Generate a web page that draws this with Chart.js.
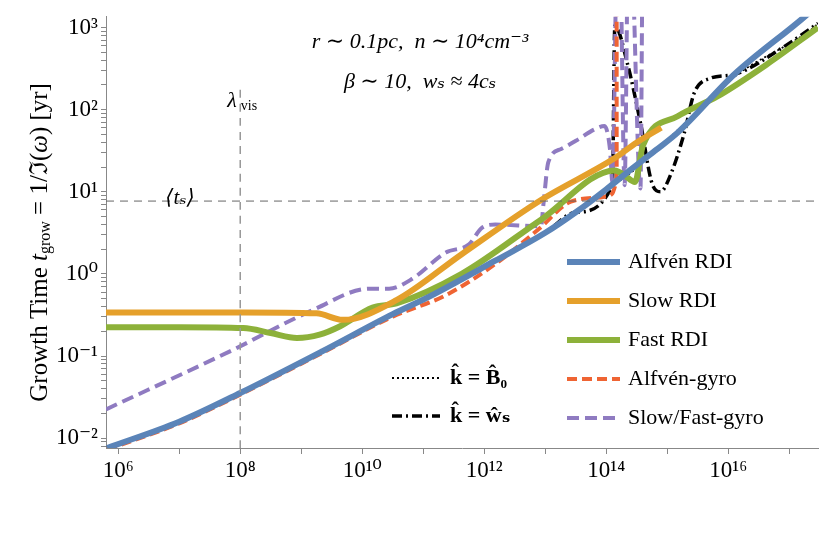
<!DOCTYPE html>
<html><head><meta charset="utf-8">
<script src="https://cdn.jsdelivr.net/npm/chart.js@4/dist/chart.umd.min.js"></script>
<style>html,body{margin:0;padding:0;background:#fff}#w{width:830px;height:542px}</style>
</head><body><div id="w"><canvas id="c"></canvas></div>
<script>
// log10 wavenumber / log10 growth time
const xMinLog = 5.8, xMaxLog = 17.47, yMinLog = -2.12, yMaxLog = 3.13;
const tsValue = 7.7, lambdaVis = 1e8;
const alfvenLogK = [5.82, 7, 8, 9.35, 10.5, 11.09, 12.18, 13.0, 13.5, 14.0, 14.35, 14.8, 15.17, 16.1, 17.28, 17.47];
const alfvenLogT = [-2.12, -1.8, -1.45, -0.94, -0.49, -0.28, 0.16, 0.5, 0.75, 1.03, 1.24, 1.5, 1.72, 2.43, 3.15, 3.28];
const slowLogK = [5.8, 7, 8.05, 9.25, 9.68, 10.56, 11.63, 12.93, 14.14, 14.5, 14.9];
const slowLogT = [-0.47, -0.47, -0.47, -0.48, -0.56, -0.32, 0.24, 0.9, 1.41, 1.6, 1.78];
const fastLogK = [5.8, 7, 8.05, 8.5, 8.93, 9.3, 9.63, 10.17, 10.56, 11.63, 12.93, 14.14, 14.3, 14.47, 14.6, 15.17, 15.82, 16.63, 17.47];
const fastLogT = [-0.65, -0.65, -0.66, -0.72, -0.78, -0.74, -0.64, -0.41, -0.36, 0.0, 0.66, 1.26, 1.2, 1.12, 1.56, 1.92, 2.16, 2.55, 3.0];
const dottedLogK = [5.82, 7, 8, 9.35, 10.5, 11.09, 12.18, 13.0, 13.5, 14.0, 14.35, 14.8, 15.17, 16.1, 17.4, 17.47];
const dottedLogT = [-2.12, -1.8, -1.45, -0.94, -0.49, -0.28, 0.16, 0.5, 0.75, 1.03, 1.2, 1.5, 1.75, 2.4, 3.0, 3.05];
const wsLogK = [5.82, 7, 8, 9.35, 10.5, 11.09, 12.18, 13.0, 13.5, 14.1, 14.14, 14.35, 14.56, 14.76, 14.89, 15.05, 15.28, 15.44, 15.7, 16.1, 16.9, 17.47];
const wsLogT = [-2.12, -1.8, -1.45, -0.94, -0.49, -0.28, 0.16, 0.5, 0.75, 1.08, 3.02, 2.55, 1.84, 1.08, 1.0, 1.2, 1.72, 2.2, 2.38, 2.43, 2.76, 3.05];
const agyroLogK = [5.82, 7, 8, 9.35, 10.5, 11.37, 12.18, 12.9, 13.42, 13.97, 14.1, 14.17, 14.17];
const agyroLogT = [-2.14, -1.82, -1.47, -0.96, -0.52, -0.26, 0.12, 0.55, 0.88, 0.94, 0.98, 1.1, 4];
const sgyroLogK = [5.8, 7.84, 9.19, 10.12, 10.44, 10.82, 11.37, 11.75, 11.96, 12.18, 12.93, 12.97, 13.05, 13.26, 13.5, 13.81, 13.97, 14.06, 14.1, 14.18, 14.22, 14.3, 14.36, 14.4, 14.56, 14.6, 14.62];
const sgyroLogT = [-1.65, -0.94, -0.44, -0.18, -0.18, -0.06, 0.26, 0.36, 0.56, 0.6, 0.58, 0.85, 1.36, 1.52, 1.62, 1.76, 1.8, 1.52, 1.12, 4, 4, 1.08, 4, 4, 1.04, 4, 4];
const xTickExps = [6, 8, 10, 12, 14, 16];
const legendNames = ['Alfvén RDI', 'Slow RDI', 'Fast RDI', 'Alfvén-gyro', 'Slow/Fast-gyro'];

const pts = (xs, ys) => xs.map((v, i) => ({x: 10 ** v, y: 10 ** ys[i]}));
const sup = s => String(s).replace(/-/g,'⁻').replace(/\d/g, d => '⁰¹²³⁴⁵⁶⁷⁸⁹'[d]);
const C = {blue:'#5b84b8', orange:'#e5a02b', green:'#8db13a', red:'#ef6433', purple:'#8f7bc1'};
const SERIF = '"Liberation Serif","DejaVu Serif",serif';

function ds(data, color, w, dash) {
  return {data, borderColor: color, borderWidth: w, borderDash: dash || [], showLine: true,
          pointRadius: 0, fill: false, tension: 0.4, cubicInterpolationMode: 'monotone', borderCapStyle: 'butt'};
}
const datasets = [
  ds([{x:10**xMinLog,y:tsValue},{x:10**xMaxLog,y:tsValue}], '#666', 1, [8,6]),
  ds([{x:lambdaVis,y:10**yMinLog},{x:lambdaVis,y:10**2.3}], '#999', 1.5, [8,6]),
  ds(pts(alfvenLogK, alfvenLogT), C.blue, 6),
  ds(pts(slowLogK, slowLogT), C.orange, 6),
  ds(pts(fastLogK, fastLogT), C.green, 6),
  ds(pts(agyroLogK, agyroLogT), C.red, 4, [10,5]),
  ds(pts(sgyroLogK, sgyroLogT), C.purple, 4, [12,6]),
  ds(pts(dottedLogK, dottedLogT), '#000', 1.8, [2,3]),
  ds(pts(wsLogK, wsLogT), '#000', 3.5, [10,4,2,4]),
];
datasets.forEach(d => { if (d.data.some((p,i)=>i>0 && p.x===d.data[i-1].x)) d.tension = 0; });
datasets[0].tension = datasets[1].tension = 0;

const deco = {
  id: 'deco',
  afterDraw(chart) {
    const g = chart.ctx, ca = chart.chartArea;
    g.save();
    g.fillStyle = '#000'; g.textBaseline = 'middle';
    g.textAlign = 'center';
    g.font = 'italic 22px ' + SERIF;
    g.fillText('r ∼ 0.1pc,  n ∼ 10⁴cm⁻³', 420, 42);
    g.fillText('β ∼ 10,  wₛ ≈ 4cₛ', 420, 82);
    g.font = 'italic 22px ' + SERIF; g.fillText('λ', 232, 101);
    g.font = '14px ' + SERIF; g.fillText('vis', 249, 106);
    g.font = 'italic 21px ' + SERIF; g.fillText('⟨tₛ⟩', 180, 198);
    const cols = [C.blue, C.orange, C.green, C.red, C.purple];
    const dashes = [[],[],[],[10,5],[12,6]];
    g.textAlign = 'left'; g.font = '22px ' + SERIF;
    cols.forEach((c, i) => {
      const y = 262 + i * 39;
      g.strokeStyle = c; g.lineWidth = i < 3 ? 6 : 4; g.setLineDash(dashes[i]);
      g.beginPath(); g.moveTo(567, y); g.lineTo(620, y); g.stroke();
      g.fillText(legendNames[i], 628, y);
    });
    g.strokeStyle = '#000';
    g.lineWidth = 1.8; g.setLineDash([2,3]);
    g.beginPath(); g.moveTo(392, 378); g.lineTo(440, 378); g.stroke();
    g.lineWidth = 3.5; g.setLineDash([10,4,2,4]);
    g.beginPath(); g.moveTo(392, 416); g.lineTo(440, 416); g.stroke();
    g.setLineDash([]);
    g.font = 'bold 22px ' + SERIF;
    g.fillText('k̂ = B̂₀', 450, 378);
    g.fillText('k̂ = ŵₛ', 450, 416);
    g.translate(40, (ca.top + ca.bottom) / 2 + 10); g.rotate(-Math.PI / 2);
    const parts = [['Growth Time ', '25px ' + SERIF, 0], ['t', 'italic 25px ' + SERIF, 0],
                   ['grow', '16px ' + SERIF, 6], [' = 1/ℑ(', '25px ' + SERIF, 0],
                   ['ω', 'italic 25px ' + SERIF, 0], [') [yr]', '25px ' + SERIF, 0]];
    let tw = 0; parts.forEach(p => { g.font = p[1]; tw += g.measureText(p[0]).width; });
    let x = -tw / 2;
    parts.forEach(p => { g.font = p[1]; g.fillText(p[0], x, p[2]); x += g.measureText(p[0]).width; });
    g.restore();
  }
};

new Chart(document.getElementById('c'), {
  type: 'scatter',
  data: {datasets},
  plugins: [deco],
  options: {
    responsive: true, maintainAspectRatio: false, animation: false,
    layout: {padding: {top: 8, right: 12, bottom: 54, left: 0}},
    plugins: {legend: {display: false}, tooltip: {enabled: false}},
    scales: {
      x: {type: 'logarithmic', min: 10 ** xMinLog, max: 10 ** xMaxLog,
          afterFit: s => { s.height = 40; },
          afterBuildTicks: s => { s.ticks = []; for (let e = 6; e <= 17; e++) s.ticks.push({value: 10 ** e}); },
          ticks: {autoSkip: false, maxRotation: 0, color: '#000', font: {family: SERIF, size: 23},
                  callback: v => { const e = Math.round(Math.log10(v)); return xTickExps.includes(e) ? '10' + sup(e) : ''; }},
          grid: {drawOnChartArea: false, tickLength: 6, color: '#888'},
          border: {color: '#888'}},
      y: {type: 'logarithmic', min: 10 ** yMinLog, max: 10 ** yMaxLog,
          afterFit: s => { s.width = 106; },
          afterBuildTicks: s => { s.ticks = []; for (let e = -3; e <= 3; e++) for (let m = 1; m < 10; m++) { const v = m * 10 ** e; if (v >= s.min && v <= s.max) s.ticks.push({value: v}); } },
          ticks: {autoSkip: false, color: '#000', font: {family: SERIF, size: 23},
                  callback: v => { const e = Math.log10(v); return Math.abs(e - Math.round(e)) < 1e-6 ? '10' + sup(Math.round(e)) : ''; }},
          grid: {drawOnChartArea: false, tickLength: 5, color: '#888'},
          border: {color: '#888'}}
    }
  }
});
</script></body></html>
